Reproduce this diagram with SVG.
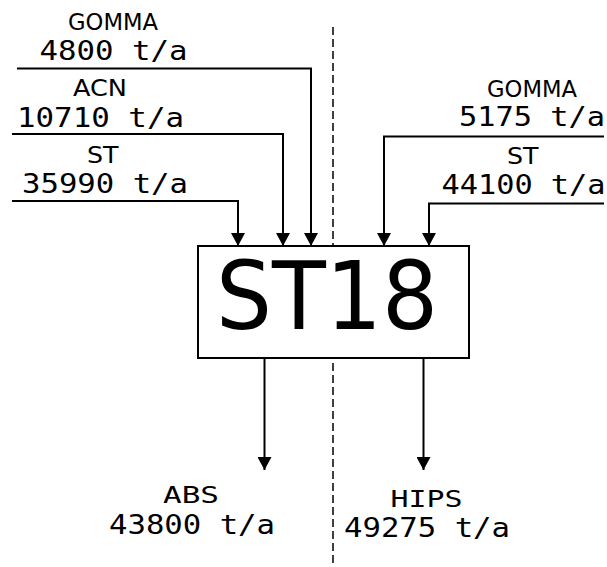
<svg xmlns="http://www.w3.org/2000/svg" width="607" height="567" viewBox="0 0 607 567">
<defs>
<style>
.ln{fill:none;stroke:#000;stroke-width:2}
.dash{fill:none;stroke:#000;stroke-width:1.5;stroke-dasharray:8 4}
.lab{font-family:"DejaVu Sans",sans-serif;font-size:22.5px;fill:#000}
.num{font-family:"DejaVu Sans Mono",monospace;font-size:26.5px;fill:#000}
.mlab{font-family:"DejaVu Sans Mono",monospace;font-size:23px;fill:#000}
.big{font-family:"DejaVu Sans",sans-serif;font-size:95px;fill:#000}
</style>
<marker id="ah" markerUnits="userSpaceOnUse" markerWidth="14" markerHeight="14" viewBox="0 0 14 14" refX="13" refY="7" orient="auto">
<path d="M0,0 L13,7 L0,14 z" fill="#000"/>
</marker>
</defs>
<rect width="607" height="567" fill="#fff"/>
<line class="dash" x1="333" y1="27" x2="333" y2="567"/>
<g id="connectors">
<polyline class="ln" points="17,68.5 311,68.5 311,246" marker-end="url(#ah)"/>
<polyline class="ln" points="12,134 283,134 283,246" marker-end="url(#ah)"/>
<polyline class="ln" points="12,201 238,201 238,246" marker-end="url(#ah)"/>
<polyline class="ln" points="604,136.5 384,136.5 384,246" marker-end="url(#ah)"/>
<polyline class="ln" points="604,203.5 429,203.5 429,246" marker-end="url(#ah)"/>
<line class="ln" x1="264.5" y1="358" x2="264.5" y2="470" marker-end="url(#ah)"/>
<line class="ln" x1="423.5" y1="358" x2="423.5" y2="470" marker-end="url(#ah)"/>
</g>
<g id="in_gomma_l">
<text class="lab" x="68" y="29.5" textLength="90" lengthAdjust="spacingAndGlyphs">GOMMA</text>
<text class="num" x="39.5" y="60" textLength="148" lengthAdjust="spacingAndGlyphs">4800 t/a</text>
</g>
<g id="in_acn">
<text class="lab" x="73" y="96" textLength="54" lengthAdjust="spacingAndGlyphs">ACN</text>
<text class="num" x="17" y="126.7" textLength="167" lengthAdjust="spacingAndGlyphs">10710 t/a</text>
</g>
<g id="in_st_l">
<text class="lab" x="87" y="163.3" textLength="31.5" lengthAdjust="spacingAndGlyphs">ST</text>
<text class="num" x="22" y="193.3" textLength="166" lengthAdjust="spacingAndGlyphs">35990 t/a</text>
</g>
<g id="in_gomma_r">
<text class="lab" x="487" y="96.7" textLength="90" lengthAdjust="spacingAndGlyphs">GOMMA</text>
<text class="num" x="459" y="126" textLength="146" lengthAdjust="spacingAndGlyphs">5175 t/a</text>
</g>
<g id="in_st_r">
<text class="lab" x="507" y="164" textLength="31.5" lengthAdjust="spacingAndGlyphs">ST</text>
<text class="num" x="441.5" y="194" textLength="164" lengthAdjust="spacingAndGlyphs">44100 t/a</text>
</g>
<g id="st18">
<rect x="198" y="246" width="271" height="112" fill="#fff" stroke="#000" stroke-width="2"/>
<text class="big" x="216" y="329" textLength="222" lengthAdjust="spacingAndGlyphs">ST18</text>
</g>
<g id="out_abs">
<text class="mlab" x="163" y="503.3" textLength="56" lengthAdjust="spacingAndGlyphs">ABS</text>
<text class="num" x="109" y="534.3" textLength="166" lengthAdjust="spacingAndGlyphs">43800 t/a</text>
</g>
<g id="out_hips">
<text class="mlab" x="390.5" y="506.7" textLength="72" lengthAdjust="spacingAndGlyphs">HIPS</text>
<text class="num" x="344" y="536.7" textLength="166" lengthAdjust="spacingAndGlyphs">49275 t/a</text>
</g>
</svg>
